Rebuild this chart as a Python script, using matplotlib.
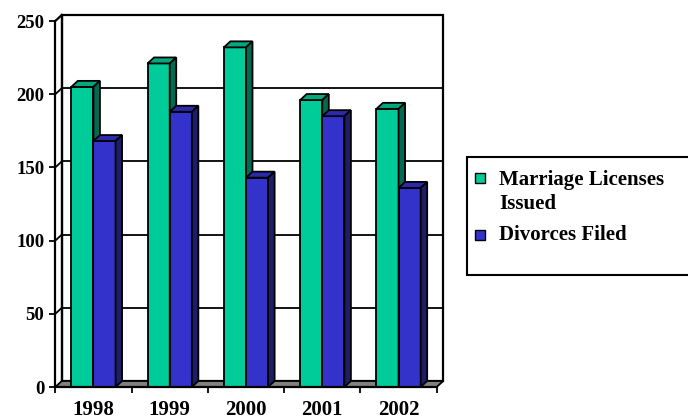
import matplotlib
matplotlib.use("Agg")
import matplotlib.pyplot as plt
from matplotlib.patches import Polygon, Rectangle
import numpy as np

years = ["1998", "1999", "2000", "2001", "2002"]
series_names = ["Marriage Licenses\nIssued", "Divorces Filed"]
marriage = [205, 221, 232, 196, 190]
divorces = [168, 188, 143, 185, 136]
yticks = [0, 50, 100, 150, 200, 250]

front_cols = ["#00CC99", "#3333CC"]
top_cols = ["#00A880", "#2A2AAA"]
side_cols = ["#006B50", "#1E1E66"]

W, H = 688, 419
fig = plt.figure(figsize=(W / 100, H / 100), dpi=100)
plt.rcParams['font.family'] = ['Liberation Serif', 'DejaVu Serif']

# axes in pixel geometry
x0p, x1p = 55.3, 436.7
y0p, y1p = 387.0, 21.0
ax = fig.add_axes([x0p / W, (H - y0p) / H, (x1p - x0p) / W, (y0p - y1p) / H])
ax.set_xlim(0, 5)
ax.set_ylim(0, 250)
ppx = (x1p - x0p) / 5.0
ppy = (y0p - y1p) / 250.0
dpx, dpy = 6.5, 6.0
ddx, ddy = dpx / ppx, dpy / ppy

lw = 1.3
# back wall
ax.add_patch(Rectangle((ddx, ddy), 5, 250, facecolor="white", edgecolor="black",
                       lw=lw + 0.3, clip_on=False, zorder=0))
# gridlines on back wall and left wall
for v in yticks[1:-1]:
    ax.plot([ddx, 5 + ddx], [v + ddy, v + ddy], color="black", lw=lw, clip_on=False, zorder=1)
    ax.plot([0, ddx], [v, v + ddy], color="black", lw=lw, clip_on=False, zorder=1)
# left wall
ax.plot([ddx, ddx], [ddy, 250 + ddy], color="black", lw=lw + 0.3, clip_on=False, zorder=1)
ax.plot([0, ddx], [250, 250 + ddy], color="black", lw=lw + 0.3, clip_on=False, zorder=1)
# floor
ax.add_patch(Polygon([(0, 0), (5, 0), (5 + ddx, ddy), (ddx, ddy)], closed=True,
                     facecolor="#808080", edgecolor="black", lw=lw, clip_on=False, zorder=2))

# bars
bw = 0.29
xc = np.arange(len(years)) + 0.5
for si, vals in enumerate([marriage, divorces]):
    xs = xc + (si - 0.5) * bw
    ax.bar(xs, vals, width=bw, color=front_cols[si], edgecolor="black", lw=lw,
           zorder=3 + si, clip_on=False)
    for x, v in zip(xs, vals):
        l, r = x - bw / 2, x + bw / 2
        ax.add_patch(Polygon([(l, v), (r, v), (r + ddx, v + ddy), (l + ddx, v + ddy)],
                             closed=True, facecolor=top_cols[si], edgecolor="black",
                             lw=lw, clip_on=False, zorder=3 + si))
        ax.add_patch(Polygon([(r, 0), (r + ddx, ddy), (r + ddx, v + ddy), (r, v)],
                             closed=True, facecolor=side_cols[si], edgecolor="black",
                             lw=lw, clip_on=False, zorder=3 + si))

# axes styling
for s in ["top", "right"]:
    ax.spines[s].set_visible(False)
for s in ["left", "bottom"]:
    ax.spines[s].set_linewidth(1.6)
    ax.spines[s].set_zorder(6)
ax.set_yticks(yticks)
ax.set_yticklabels([str(t) for t in yticks], fontsize=13.5, fontweight="bold")
ax.tick_params(axis="y", direction="out", length=4.5, width=1.3, pad=3.5)
ax.set_xticks(np.arange(0, 6))
ax.set_xticklabels([])
ax.tick_params(axis="x", which="major", direction="out", length=4.5, width=1.3)
ax.set_xticks(xc, minor=True)
ax.set_xticklabels(years, minor=True, fontsize=15, fontweight="bold")
ax.tick_params(axis="x", which="minor", length=0, pad=9.5)
ax.patch.set_visible(False)

# legend (manual, figure pixel coords)
def fx(x):
    return x / W

def fy(y):
    return 1 - y / H

fig.add_artist(Rectangle((fx(467), fy(275)), fx(700) - fx(467), fy(157) - fy(275),
                         transform=fig.transFigure, facecolor="white", edgecolor="black",
                         lw=1.5))
leg_rows = [178, 235]
for si, yy in enumerate(leg_rows):
    fig.add_artist(Rectangle((fx(475), fy(yy + 5)), fx(10), 10 / H,
                             transform=fig.transFigure, facecolor=front_cols[si],
                             edgecolor="black", lw=1.0))
fig.text(fx(499), fy(170), series_names[0], fontsize=15, fontweight="bold",
         va="top", ha="left", linespacing=1.25)
fig.text(fx(499), fy(235), series_names[1], fontsize=15, fontweight="bold",
         va="center", ha="left")

fig.savefig("out.png", dpi=100)
